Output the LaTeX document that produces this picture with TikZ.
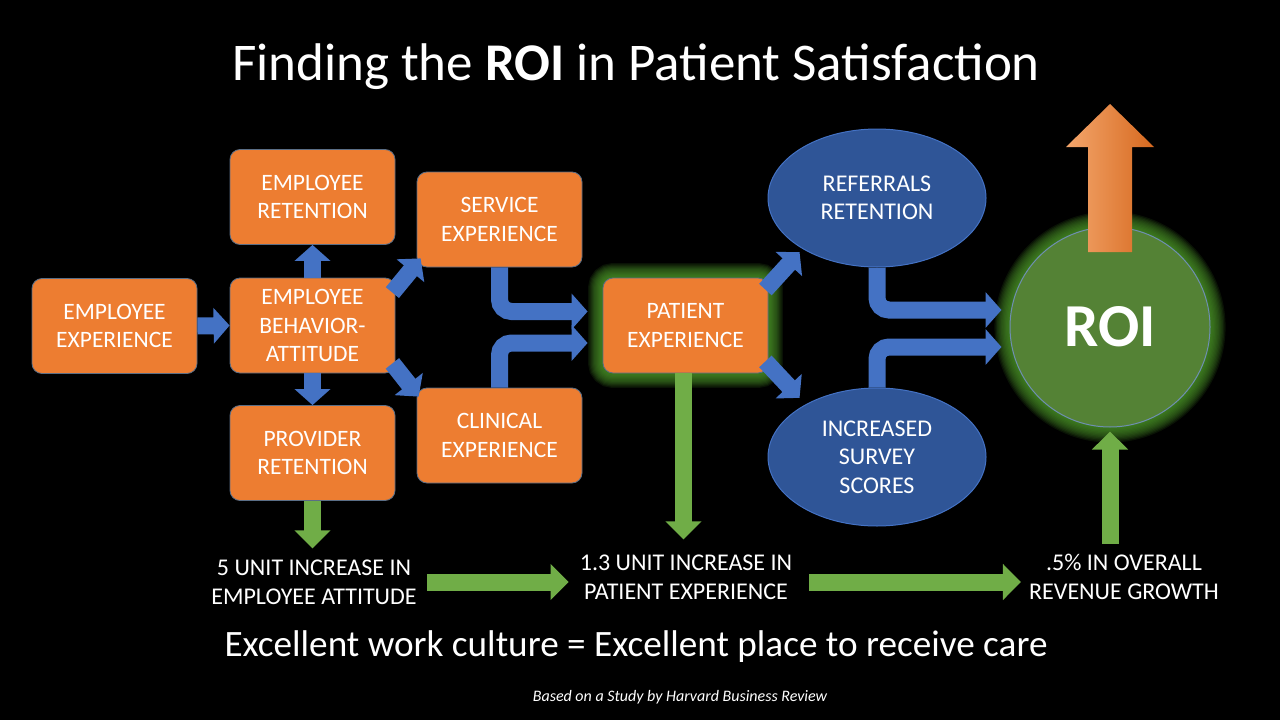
\documentclass[tikz,border=0pt]{standalone}
\usepackage{fontspec}
\setmainfont{Carlito}
\usetikzlibrary{arrows.meta,shapes.geometric,backgrounds}
\definecolor{boxorange}{HTML}{ED7D31}
\definecolor{boxedge}{HTML}{5A6E86}
\definecolor{arrowblue}{HTML}{4472C4}
\definecolor{ovalblue}{HTML}{2F5597}
\definecolor{roigreen}{HTML}{548235}
\definecolor{roiedge}{HTML}{6F8FB2}
\definecolor{arrowgreen}{HTML}{70AD47}
\definecolor{glowgreen}{HTML}{4E9A2A}
\definecolor{uplight}{HTML}{F4A66C}
\definecolor{updark}{HTML}{D6691F}

\begin{document}
\begin{tikzpicture}[x=1pt, y=-1pt,
    box/.style={rectangle, rounded corners=10pt, fill=boxorange, draw=boxedge, line width=0.8pt,
      minimum width=165pt, minimum height=95pt, text=white, align=center,
      font=\fontsize{23.5}{28.5}\selectfont},
    oval/.style={ellipse, fill=ovalblue, draw=arrowblue, line width=1pt,
      minimum width=218pt, minimum height=138pt, text=white, align=center,
      font=\fontsize{24}{28.5}\selectfont},
    result/.style={text=white, align=center, inner sep=0pt, font=\fontsize{24}{29}\selectfont},
    bluearrow/.style={draw=arrowblue, line width=17pt, -{Triangle[length=16pt,width=35pt]}},
    greenarrow/.style={draw=arrowgreen, line width=17pt, -{Triangle[length=18pt,width=35pt]}},
    glow/.style={draw=glowgreen, opacity=0.12}]
    \useasboundingbox (0,0) rectangle (1280,720);

    \node [anchor=base, text=white, font=\fontsize{53}{60}\selectfont] (title) at (636,80)
      {Finding the \textbf{ROI} in Patient Satisfaction};

    \node [box] (ee) at (114.5,326) {EMPLOYEE\\EXPERIENCE};
    \node [box] (er) at (312.5,197) {EMPLOYEE\\RETENTION};
    \node [box] (eba) at (312.5,325.5) {EMPLOYEE\\BEHAVIOR-\\ATTITUDE};
    \node [box] (pr) at (312.5,453) {PROVIDER\\RETENTION};
    \node [box] (svc) at (499.5,219.5) {SERVICE\\EXPERIENCE};
    \node [box] (cli) at (499.5,435.5) {CLINICAL\\EXPERIENCE};
    \node [box] (pat) at (685.5,325.5) {PATIENT\\EXPERIENCE};
    \node [oval] (ref) at (877,198) {REFERRALS\\RETENTION};
    \node [oval] (inc) at (877,457) {INCREASED\\SURVEY\\SCORES};
    \node [circle, fill=roigreen, draw=roiedge, line width=1pt, minimum size=200pt, text=white,
      font=\fontsize{61}{64}\selectfont\bfseries] (roi) at (1110,327) {ROI};

    \node [result] (att) at (314,582) {5 UNIT INCREASE IN\\EMPLOYEE ATTITUDE};
    \node [result] (pexp) at (686,577) {1.3 UNIT INCREASE IN\\PATIENT EXPERIENCE};
    \node [result] (rev) at (1124,577) {.5\% IN OVERALL\\REVENUE GROWTH};

    \node [anchor=base, text=white, font=\fontsize{37.2}{40}\selectfont] (motto) at (636,656)
      {Excellent work culture = Excellent place to receive care};
    \node [anchor=base, text=white, font=\fontsize{16}{18}\selectfont\itshape] (source) at (680,701)
      {Based on a Study by Harvard Business Review};

    % blue flow
    \draw [bluearrow] (ee.east) -- (eba.west);
    \draw [bluearrow] (eba.north) -- (er.south);
    \draw [bluearrow] (eba.south) -- (pr.north);
    \draw [bluearrow] ([xshift=-3pt,yshift=-15pt]eba.north east) -- ([xshift=4pt,yshift=9pt]svc.south west);
    \draw [bluearrow] ([xshift=-3pt,yshift=10pt]eba.south east) -- ([xshift=2pt,yshift=-9pt]cli.north west);
    \draw [bluearrow, rounded corners=12pt, shorten >=15pt] (svc.south) |- ([yshift=14pt]pat.west);
    \draw [bluearrow, rounded corners=12pt, shorten >=15pt] (cli.north) |- ([yshift=-17.5pt]pat.west);
    \draw [bluearrow] ([xshift=-3pt,yshift=-12pt]pat.north east) -- ([yshift=-5pt]ref.south west);
    \draw [bluearrow] ([xshift=-3pt,yshift=12pt]pat.south east) -- ([yshift=10pt]inc.north west);
    \draw [bluearrow, rounded corners=12pt, shorten >=8pt] (ref.south) |- ([yshift=17pt]roi.west);
    \draw [bluearrow, rounded corners=12pt, shorten >=8pt] (inc.north) |- ([yshift=-20pt]roi.west);

    % green flow
    \draw [greenarrow, shorten >=11pt] (pr.south) -- (pr.south |- att.north);
    \draw [greenarrow, shorten >=15pt] ([xshift=-2pt]pat.south) -- ([xshift=-2pt]pat.south |- pexp.north);
    \draw [greenarrow, shorten <=10pt, shorten >=11pt] (att.east) -- (att.east -| pexp.west);
    \draw [greenarrow, shorten <=17pt, shorten >=8pt] ([yshift=-5pt]pexp.east) -- ([yshift=-5pt]pexp.east -| rev.west);
    \draw [greenarrow, shorten <=10pt, shorten >=4pt] (roi.south |- rev.north) -- (roi.south);

    % growth arrow
    \begin{scope}[shift={(roi.center)}]
      \shade [left color=uplight, right color=updark] (-22,-75) -- (-22,-180) -- (-44,-180) -- (0,-223)
        -- (44,-180) -- (22,-180) -- (22,-75) -- cycle;
    \end{scope}

    \begin{scope}[on background layer]
      \fill [black] (0,0) rectangle (1280,720);
      \foreach \g in {1,...,12} {
        \draw [glow, line width=\g*2.4pt, rounded corners=10pt] (pat.south west) rectangle (pat.north east);
        \draw [glow, line width=\g*2.6pt] (roi.center) circle (100pt);
      }
    \end{scope}
  \end{tikzpicture}
\end{document}
